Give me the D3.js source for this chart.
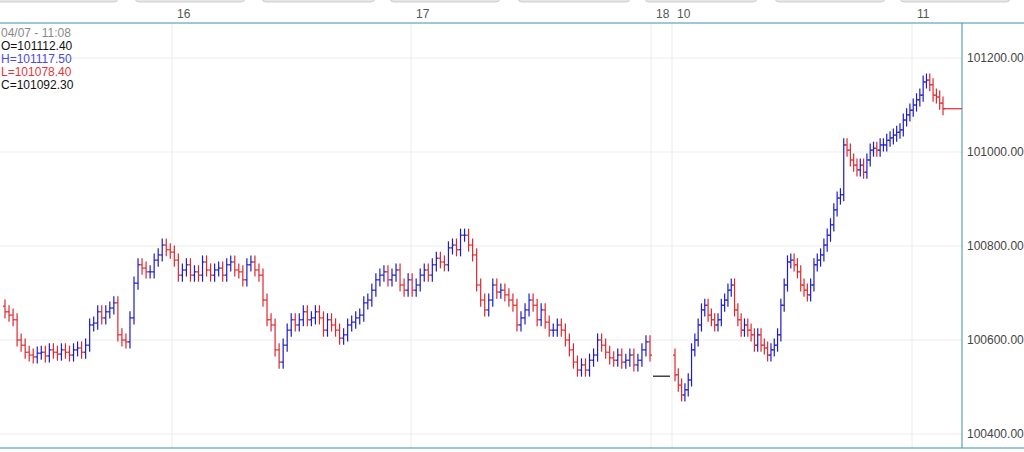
<!DOCTYPE html>
<html>
<head>
<meta charset="utf-8">
<script src="https://cdn.jsdelivr.net/npm/d3@7"></script>
<style>
  body { margin: 0; background: #fff; }
  text { font-family: "Liberation Sans", Arial, sans-serif; }
</style>
</head>
<body>
<svg id="drawing_region"></svg>
<script>
// closes, open = previous close
const closes = [
  100660,100653,100643,100600,100589,100574,100568,100564,100572,100574,100566,100579,100574,100570,100579,100574,
  100568,100579,100583,100574,100589,100632,100636,100660,100647,100660,100668,100679,100611,100600,100596,100647,
  100721,100760,100753,100745,100745,100770,100781,100802,100792,100787,100770,100738,100749,100760,100738,100745,
  100738,100766,100749,100738,100749,100753,100738,100760,100766,100749,100745,100728,100760,100766,100749,100738,
  100685,100643,100632,100579,100553,100589,100621,100643,100632,100643,100660,100643,100647,100660,100647,100621,
  100643,100632,100621,100604,100611,100632,100638,100647,100653,100679,100685,100706,100728,100738,100745,100728,
  100738,100749,100717,100706,100728,100706,100717,100738,100749,100738,100760,100774,100766,100760,100796,100802,
  100792,100823,100823,100802,100781,100717,100685,100664,100685,100717,100702,100706,100696,100685,100674,100632,
  100647,100664,100685,100674,100643,100664,100638,100621,100621,100632,100621,100600,100579,100553,100536,100547,
  100536,100557,100568,100600,100589,100574,100562,100557,100568,100553,100557,100568,100547,100557,100579,100596,
  // session 10
  100568,100526,100504,100483,100494,100515,100579,100600,100632,100664,100674,100653,100643,100632,100643,100674,
  100685,100706,100717,100664,100643,100621,100632,100621,100611,100589,100611,100589,100583,100568,100579,100589,
  100611,100674,100717,100766,100770,100760,100745,100717,100706,100696,100717,100760,100770,100781,100802,100823,
  100845,100877,100902,100909,101015,101004,100983,100972,100962,100972,100957,100983,101004,101008,101004,101015,
  101015,101025,101030,101036,101042,101047,101068,101079,101089,101100,101111,101121,101149,101153,101143,101121,
  101117,101104,101092
];
const firstOpen = 100672;
const sessionBreak = 160;          // last bar index of first block
const gapLevel = 100523;           // flat marker between sessions
const lastLevel = 101092;
const yTicks = [100400, 100600, 100800, 101000, 101200];
const dayLabels = ["16", "17", "18", "10", "11"];
const dayX = [172, 411, 651, 672, 912];
const legend = [
  { t: "04/07 - 11:08", c: "#8a8a8a" },
  { t: "O=101112.40", c: "#111" },
  { t: "H=101117.50", c: "#4a4ae8" },
  { t: "L=101078.40", c: "#e8353a" },
  { t: "C=101092.30", c: "#111" }
];

const W = 1024, H = 452, plotRight = 962, plotTop = 23, plotBottom = 448;
const up = "#1c1cc8", down = "#e0262c";

const data = closes.map((c, i) => {
  const o = i === 0 ? firstOpen : closes[i - 1];
  return { i: i, o: o, c: c, h: Math.max(o, c) + 14, l: Math.min(o, c) - 14 };
});

const svg = d3.select("#drawing_region").attr("width", W).attr("height", H);

const yscale = d3.scaleLinear().domain([100400, 101200]).range([434, 58]);
const n = closes.length;
const xscale = d3.scaleLinear()
  .domain([0, sessionBreak, sessionBreak + 1, n - 1])
  .range([5, 650, 675, 943]);

// top tabs
[[-10, 118], [135, 245], [262, 375], [390, 500], [518, 630], [645, 757], [775, 885], [900, 1010]].forEach(t => {
  svg.append("rect").attr("x", t[0]).attr("y", -6).attr("width", t[1] - t[0]).attr("height", 8)
    .attr("rx", 4).attr("fill", "#e6e6e6").attr("stroke", "#cfcfcf");
});

// grid
svg.append("g").selectAll("line").data(yTicks).join("line")
  .attr("x1", 0).attr("x2", plotRight).attr("y1", d => yscale(d)).attr("y2", d => yscale(d))
  .attr("stroke", "#ececec");
svg.append("g").selectAll("line").data(dayX).join("line")
  .attr("x1", d => d).attr("x2", d => d).attr("y1", plotTop).attr("y2", plotBottom)
  .attr("stroke", "#ececec");

// day labels
svg.append("g").selectAll("text").data(dayLabels).join("text")
  .attr("x", (d, i) => dayX[i] + 5).attr("y", 18).attr("font-size", 12).attr("fill", "#555")
  .text(d => d);

// frame
svg.append("line").attr("x1", 0).attr("x2", W).attr("y1", plotTop).attr("y2", plotTop).attr("stroke", "#3c8fae");
svg.append("line").attr("x1", 0).attr("x2", W).attr("y1", plotBottom).attr("y2", plotBottom).attr("stroke", "#3c8fae");
svg.append("line").attr("x1", plotRight).attr("x2", plotRight).attr("y1", plotTop).attr("y2", plotBottom).attr("stroke", "#3c8fae");

// right axis labels
svg.append("g").selectAll("text").data(yTicks).join("text")
  .attr("x", 967).attr("y", d => yscale(d) + 4).attr("font-size", 12).attr("fill", "#444")
  .text(d => d.toFixed(2));

// bars
const bars = svg.append("g").selectAll("g").data(data).join("g")
  .attr("stroke", d => d.c >= d.o ? up : down).attr("stroke-width", 1.2);
bars.append("line")
  .attr("x1", d => xscale(d.i)).attr("x2", d => xscale(d.i))
  .attr("y1", d => yscale(d.h)).attr("y2", d => yscale(d.l));
bars.append("line")
  .attr("x1", d => xscale(d.i) - 2).attr("x2", d => xscale(d.i))
  .attr("y1", d => yscale(d.o)).attr("y2", d => yscale(d.o));
bars.append("line")
  .attr("x1", d => xscale(d.i)).attr("x2", d => xscale(d.i) + 2)
  .attr("y1", d => yscale(d.c)).attr("y2", d => yscale(d.c));

// session break marker and last price line
svg.append("line").attr("x1", 653).attr("x2", 670)
  .attr("y1", yscale(gapLevel)).attr("y2", yscale(gapLevel)).attr("stroke", "#111").attr("stroke-width", 1.2);
svg.append("line").attr("x1", xscale(n - 1)).attr("x2", plotRight)
  .attr("y1", yscale(lastLevel)).attr("y2", yscale(lastLevel)).attr("stroke", down).attr("stroke-width", 1.2);

// legend
svg.append("g").selectAll("text").data(legend).join("text")
  .attr("x", 1).attr("y", (d, i) => 37 + i * 13).attr("font-size", 12).attr("fill", d => d.c)
  .text(d => d.t);
</script>
</body>
</html>
